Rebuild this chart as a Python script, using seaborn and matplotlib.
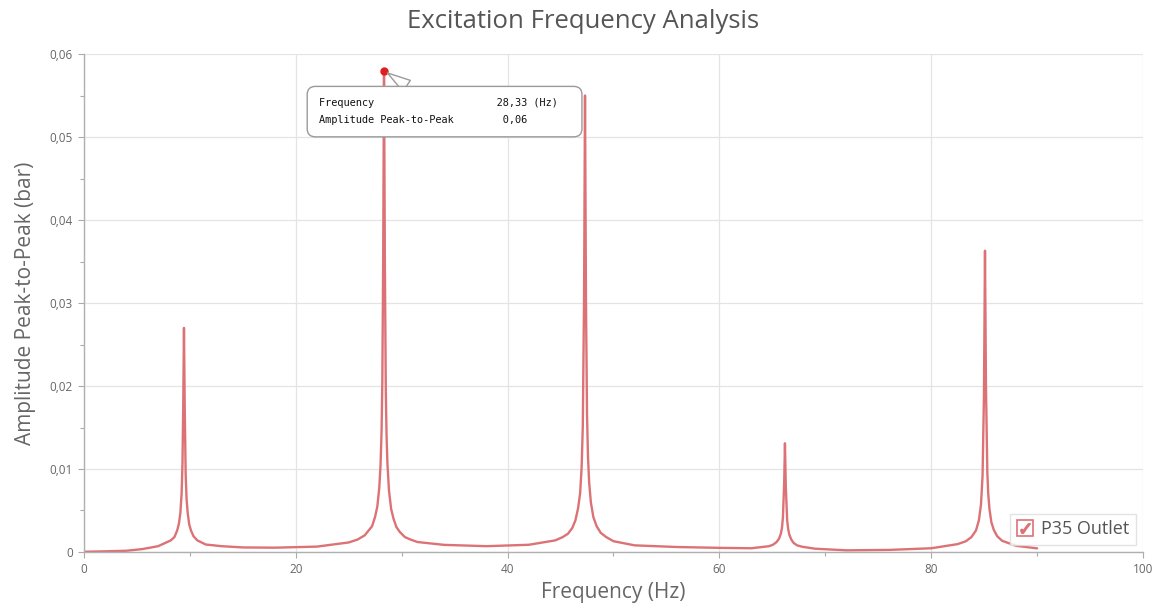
"""
Excitation frequency analysis - pressure pulsation spectrum at P35 outlet
"""

import numpy as np
import pandas as pd
import matplotlib
matplotlib.use('Agg')
import matplotlib.pyplot as plt
from matplotlib.lines import Line2D
from matplotlib.legend_handler import HandlerTuple
from matplotlib.ticker import MultipleLocator, FuncFormatter
import seaborn as sns

# Spectrum values (Hz, bar peak-to-peak)
freq_hz = [
    0, 2, 4, 5.5, 7, 8.2, 8.54, 8.8, 8.96, 9.1, 9.22, 9.3, 9.37, 9.44, 9.51, 9.6,
    9.69, 9.8, 9.94, 10.1, 10.34, 10.7, 11.5, 13, 15, 18, 22,
    25, 25.83, 26.5, 27.2, 27.48, 27.7, 27.88, 28.0, 28.10, 28.17, 28.25, 28.33,
    28.41, 28.5, 28.57, 28.65, 28.80, 29.0, 29.23, 29.5, 29.83, 30.3, 30.83, 31.5,
    34, 38, 42, 44.5, 45.21, 45.7, 46.11, 46.4, 46.66, 46.85, 46.99, 47.1, 47.22,
    47.31, 47.4, 47.5, 47.59, 47.7, 47.86, 48.1, 48.41, 48.8, 49.31, 50, 52, 56, 60,
    63, 64.7, 65.09, 65.4, 65.63, 65.8, 65.91, 66.0, 66.12, 66.19, 66.27, 66.4,
    66.49, 66.6, 66.79, 67.0, 67.34, 67.8, 69, 72, 76, 80,
    82.5, 83.28, 83.8, 84.23, 84.5, 84.70, 84.85, 84.98, 85.08, 85.17, 85.3, 85.38,
    85.5, 85.68, 85.9, 86.23, 86.7, 88, 90,
]
amp_pp_bar = [
    0.00003, 0.00008, 0.00015, 0.00035, 0.0007, 0.0014, 0.0018, 0.0026, 0.0034,
    0.0047, 0.0071, 0.0107, 0.0176, 0.027, 0.0176, 0.0094,
    0.0063, 0.0046, 0.0033, 0.0026, 0.0019, 0.0014, 0.0009, 0.0007, 0.00055,
    0.00052, 0.00065,
    0.00115, 0.0015, 0.002, 0.0031, 0.0042, 0.0055, 0.0077, 0.0104, 0.0146,
    0.0204, 0.0348, 0.058,
    0.0348, 0.0193, 0.0141, 0.0107, 0.0074, 0.0052, 0.0040, 0.0030, 0.0024,
    0.0018, 0.0015, 0.0012,
    0.00086, 0.0007, 0.00087, 0.0014, 0.0018, 0.0022, 0.0029, 0.0038, 0.0053,
    0.0071, 0.0102, 0.0151, 0.0305,
    0.055, 0.0305, 0.0166, 0.0115, 0.0084, 0.0060, 0.0042, 0.0031, 0.0023,
    0.0018, 0.0013, 0.0008, 0.0006, 0.0005,
    0.00045, 0.0007, 0.0009, 0.0012, 0.0016, 0.0022, 0.0029, 0.0042, 0.0085,
    0.0131, 0.0079, 0.0038,
    0.0028, 0.0021, 0.0015, 0.0011, 0.0008, 0.00064, 0.0004, 0.0002, 0.00025,
    0.00045,
    0.00095, 0.0013, 0.0018, 0.0026, 0.0038, 0.0057, 0.0092, 0.0187, 0.0363,
    0.0202, 0.0096, 0.0071,
    0.0052, 0.0036, 0.0027, 0.0019, 0.00135, 0.00075, 0.00044,
]

x_ticks = [0, 20, 40, 60, 80, 100]
y_ticks = [0, 0.01, 0.02, 0.03, 0.04, 0.05, 0.06]

LINE_RED = '#dc7275'
GREY_TXT = '#666666'

sns.set_theme(style='whitegrid')
plt.rcParams['font.family'] = ['Open Sans', 'DejaVu Sans']

df = pd.DataFrame({'Frequency': freq_hz, 'Amplitude': amp_pp_bar})

fig = plt.figure(figsize=(11.57, 6.09), dpi=100)
ax = fig.add_axes([0.0726, 0.0936, 0.9153, 0.8177])

sns.lineplot(data=df, x='Frequency', y='Amplitude', ax=ax, color=LINE_RED,
             linewidth=1.7, sort=True, legend=False)

# highlighted point (tooltip anchor) = highest peak
i_max = int(np.argmax(amp_pp_bar))
f_pk, a_pk = freq_hz[i_max], amp_pp_bar[i_max]
ax.plot([f_pk], [a_pk], 'o', color='#e01e1e', markersize=5, zorder=5)

tip = ('Frequency{:>30s}  \n'
       'Amplitude Peak-to-Peak{:>12s}').format('28,33 (Hz)', '0,06')
ax.annotate(tip, xy=(f_pk, a_pk), xytext=(-65, -41), textcoords='offset pixels',
            ha='left', va='center', family='DejaVu Sans Mono', fontsize=7.4,
            color='#111111', linespacing=1.85, zorder=6,
            bbox=dict(boxstyle='round,pad=1.15,rounding_size=0.8', fc='white',
                      ec='#9a9a9a', lw=1),
            arrowprops=dict(arrowstyle='wedge,tail_width=1.3,shrink_factor=0.5',
                            fc='white', ec='#9a9a9a', lw=1,
                            shrinkA=0, shrinkB=3))

ax.set_xlim(0, 100)
ax.set_ylim(0, 0.06)
ax.set_xticks(x_ticks)
ax.set_yticks(y_ticks)
ax.xaxis.set_minor_locator(MultipleLocator(10))
ax.yaxis.set_minor_locator(MultipleLocator(0.005))
ax.yaxis.set_major_formatter(FuncFormatter(
    lambda v, p: '0' if v == 0 else f'{v:.2f}'.replace('.', ',')))

ax.tick_params(axis='both', which='major', labelsize=8.5, labelcolor=GREY_TXT,
               color='#aaaaaa', length=4, width=0.8, direction='out', pad=4)
ax.tick_params(axis='both', which='minor', color='#aaaaaa', length=3, width=0.8,
               direction='out')
ax.tick_params(axis='x', which='both', bottom=True)
ax.tick_params(axis='y', which='both', left=True)

ax.grid(True, which='major', color='#e4e4e4', linewidth=0.9)
ax.set_facecolor('white')
for side in ['top', 'right']:
    ax.spines[side].set_visible(False)
for side in ['left', 'bottom']:
    ax.spines[side].set_color('#b0b0b0')
    ax.spines[side].set_linewidth(1.0)

ax.set_xlabel('Frequency (Hz)', fontsize=15, color=GREY_TXT)
ax.set_ylabel('Amplitude Peak-to-Peak (bar)', fontsize=15, color=GREY_TXT, labelpad=10)
fig.suptitle('Excitation Frequency Analysis', fontsize=18.5, color='#555555',
             x=0.504, y=0.986)

# checkbox-style legend entry
box = Line2D([], [], marker='s', markersize=11, mfc='white', mec=LINE_RED,
             mew=1.2, ls='')
tick = Line2D([], [], marker='$\\checkmark$', markersize=7, color=LINE_RED, ls='')
leg = ax.legend([(box, tick)], ['P35 Outlet'], handler_map={tuple: HandlerTuple(ndivide=1)},
                loc='lower right', fontsize=13, frameon=True, fancybox=False,
                borderaxespad=0.4, handlelength=1.0, handletextpad=0.4,
                borderpad=0.35)
leg.get_frame().set_edgecolor('#dcdcdc')
leg.get_frame().set_linewidth(1.0)
for t in leg.get_texts():
    t.set_color('#555555')

fig.savefig('out.png', dpi=100)
plt.close(fig)
